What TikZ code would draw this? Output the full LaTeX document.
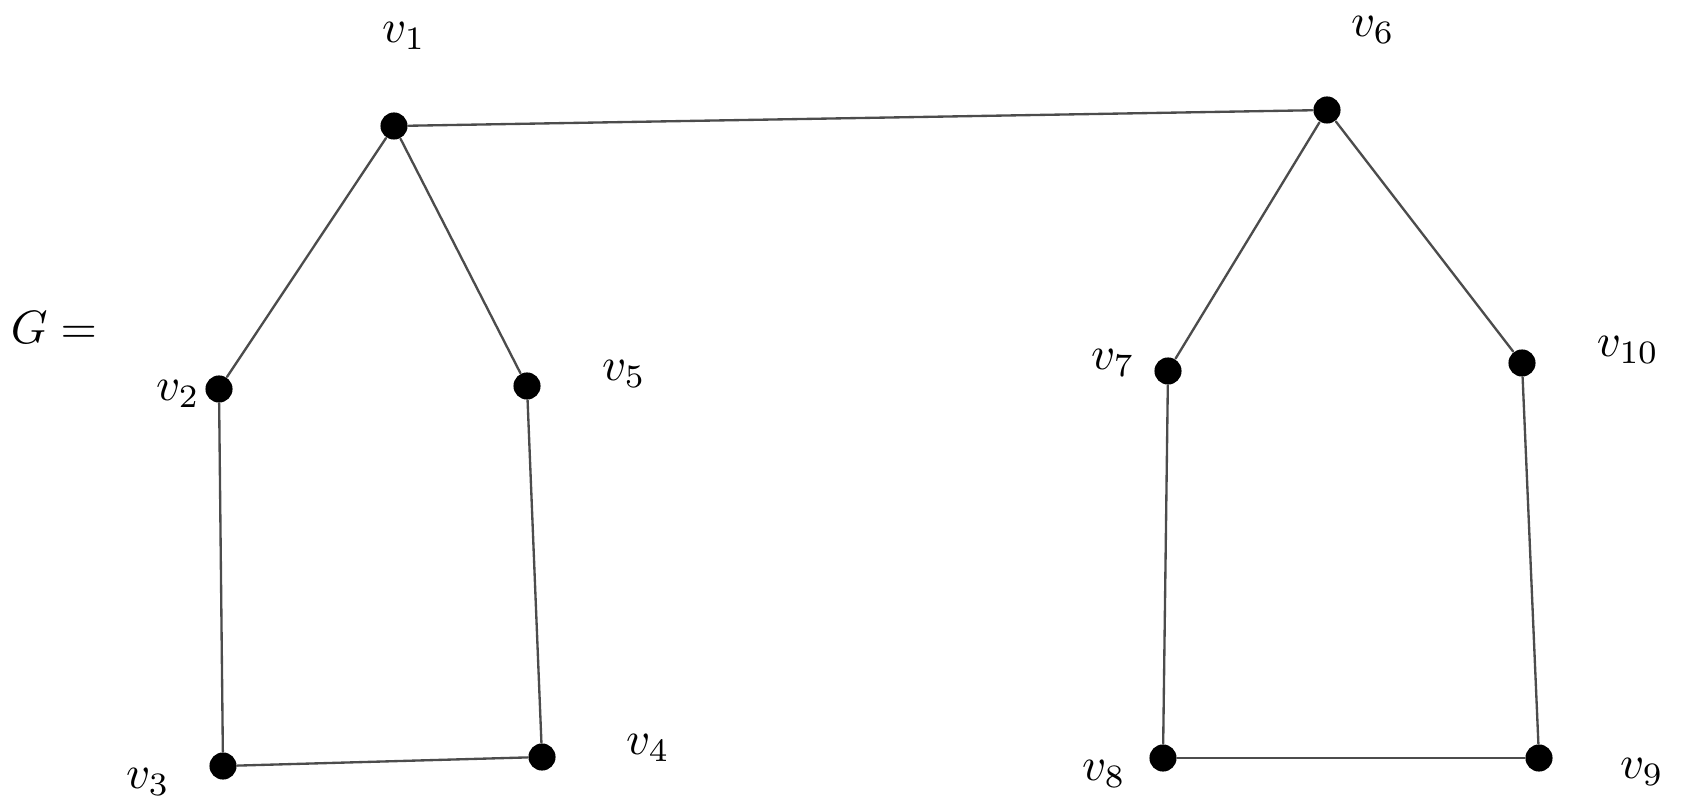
\documentclass[tikz,border=0pt]{standalone}
\begin{document}
\begin{tikzpicture}
[x=0.214pt, y=-0.214pt, line join=round, line cap=round,
 dot/.style={circle, fill, inner sep=0pt, minimum size=5.8pt},
 edge/.style={draw=black!70, line width=0.5pt}]
\useasboundingbox (0,0) rectangle (1691,799);
\node (G) at (54,328) {$G=$};
\foreach \n/\x/\y in {1/394/126, 2/219/389, 3/223/766, 4/542/757, 5/527/386,
  6/1327/110, 7/1168/371, 8/1163/758, 9/1539/758, 10/1522/363}
\node[dot] (v\n) at (\x,\y) {};
\foreach \n/\x/\y in {1/404/36, 2/178/394, 3/148/782, 4/648/748, 5/624/374,
  6/1373/30, 7/1113/363, 8/1104/774, 9/1642/772, 10/1628/350}
\node (l\n) at (\x,\y) {$v_{\n}$};
\foreach \a/\b in {1/2, 2/3, 3/4, 4/5, 5/1, 1/6, 6/7, 7/8, 8/9, 9/10, 10/6}
\draw[edge] (v\a)--(v\b);
\end{tikzpicture}
\end{document}
